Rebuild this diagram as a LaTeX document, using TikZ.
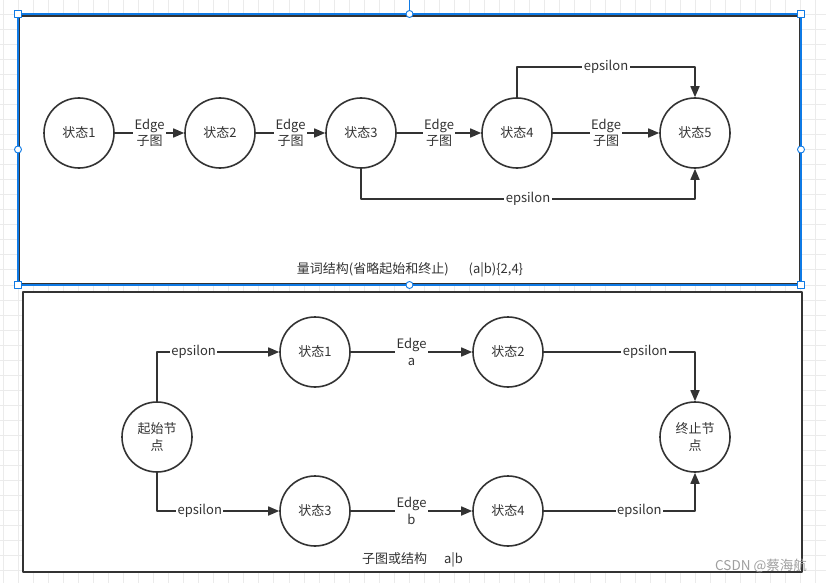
\documentclass[tikz,border=0pt]{standalone}
\usepackage{fontspec}
\setmainfont{Noto Sans CJK SC}
\usetikzlibrary{arrows.meta}
\definecolor{ink}{HTML}{333333}
\definecolor{sel}{HTML}{0F7AE5}
\definecolor{gridc}{HTML}{EBEBEB}
\begin{document}
\begin{tikzpicture}[x=1pt, y=-1pt, >={Triangle[length=11pt,width=9pt]}, line join=round, font=\fontsize{13}{16.5}\selectfont, text=ink,
  state/.style={circle, draw=ink, line width=1.6pt, minimum size=70pt, inner sep=0pt, fill=white, align=center},
  link/.style={draw=ink, line width=1.6pt, ->},
  lbl/.style={fill=white, inner xsep=1.5pt, inner ysep=0pt, align=center},
  grip/.style={draw=sel, fill=white, line width=0.9pt}]
\useasboundingbox (0,0) rectangle (826,583);
\fill[white] (0,0) rectangle (826,583);
\foreach \i in {-2,...,54} \draw[gridc, line width=0.8pt] ({18+15.05*\i},0) -- ++(0,583);
\foreach \j in {-1,...,38} \draw[gridc, line width=0.8pt] (0,{14+15.05*\j}) -- ++(826,0);
\draw[ink, line width=1.5pt, fill=white] (19.5,16) rectangle (799.5,283.5);
\draw[sel, line width=1.2pt] (18,14) rectangle (801,285);
\draw[ink, line width=1.6pt, fill=white] (23,292) rectangle (802,572);
\node[state] (s1) at (79,133) {状态1};
\node[state] (s2) at (220,133) {状态2};
\node[state] (s3) at (361,133) {状态3};
\node[state] (s4) at (517,133) {状态4};
\node[state] (s5) at (695,133) {状态5};
\draw[link] (s1) -- node[lbl] {Edge\\子图} (s2);
\draw[link] (s2) -- node[lbl] {Edge\\子图} (s3);
\draw[link] (s3) -- node[lbl] {Edge\\子图} (s4);
\draw[link] (s4) -- node[lbl] {Edge\\子图} (s5);
\draw[link] (s4.north) -- ++(0,-30) -| node[lbl,pos=0.25] {epsilon} (s5.north);
\draw[link] (s3.south) -- ++(0,30) -| node[lbl,pos=0.25] {epsilon} (s5.south);
\node (cap1) at (410,270) {量词结构(省略起始和终止)\hspace{20pt}(a|b)\{2,4\}};
\node[state] (st) at (157,437) {起始节\\点};
\node[state] (b1) at (315,352) {状态1};
\node[state] (b2) at (508,352) {状态2};
\node[state] (b3) at (315,511) {状态3};
\node[state] (b4) at (508,511) {状态4};
\node[state] (en) at (695,437) {终止节\\点};
\draw[link] (st.north) |- node[lbl,pos=0.65] {epsilon} (b1);
\draw[link] (st.south) |- node[lbl,pos=0.675] {epsilon} (b3);
\draw[link] (b1) -- node[lbl] {Edge\\a} (b2);
\draw[link] (b3) -- node[lbl] {Edge\\b} (b4);
\draw[link] (b2) -| node[lbl,pos=0.335] {epsilon} (en.north);
\draw[link] (b4) -| node[lbl,pos=0.316] {epsilon} (en.south);
\node (cap2) at (412.5,560) {子图或结构\hspace{17pt}a|b};
\foreach \p in {(18,14),(801,14),(18,285),(801,285)} \draw[grip] \p ++(-3.5,-3.5) rectangle ++(7,7);
\foreach \p in {(409.5,14),(18,149.5),(801,149.5),(409.5,285)} \draw[grip] \p circle (3.5);
\draw[sel, line width=0.9pt] (409.5,0) -- (409.5,10.5);
\node[text=gray!75, font=\fontsize{13.5}{14}\selectfont] (wm) at (761,566) {CSDN @蔡海航};
\end{tikzpicture}
\end{document}
